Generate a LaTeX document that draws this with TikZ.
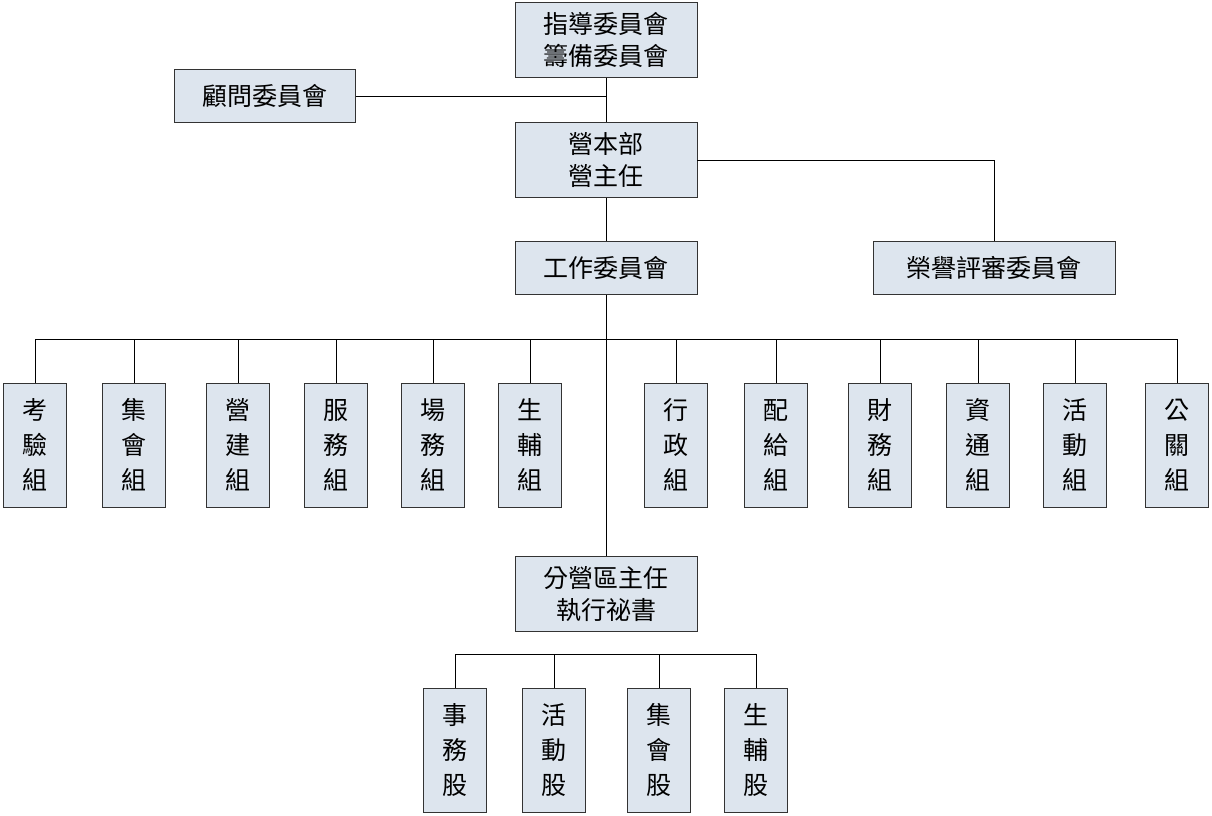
\documentclass[tikz,border=0pt]{standalone}
\usepackage{fontspec}
\setmainfont{Noto Sans CJK TC}
\usetikzlibrary{positioning}
\definecolor{boxFill}{HTML}{DDE5EE}
\definecolor{boxLine}{HTML}{333333}
\tikzset{
  unitBox/.style={draw=boxLine,fill=boxFill,line width=0.9pt,align=center,inner sep=0pt,
    font=\fontsize{25}{32}\selectfont},
  wideBox/.style={unitBox,minimum width=182pt,minimum height=75pt},
  lowBox/.style={unitBox,minimum width=182pt,minimum height=53pt},
  colBox/.style={unitBox,minimum width=63pt,minimum height=124pt,font=\fontsize{25}{35}\selectfont},
  link/.style={draw=black,line width=0.8pt}
}
\begin{document}
\begin{tikzpicture}[x=1pt,y=-1pt]
  \useasboundingbox (0,0) rectangle (1212,816);
  \node[wideBox] (lead) at (606,40) {指導委員會\\籌備委員會};
  \node[lowBox,minimum width=181pt] (advise) at (265,96) {顧問委員會};
  \node[wideBox] (hq) at (606,160) {營本部\\營主任};
  \node[lowBox] (work) at (606,268) {工作委員會};
  \node[lowBox,minimum width=242pt] (honor) at (994,268) {榮譽評審委員會};
  \node[wideBox] (sub) at (606,594) {分營區主任\\執行祕書};
  % groups
  \coordinate (bus) at (606,339);
  \foreach \x/\t [count=\i] in {35/考\\驗\\組,134/集\\會\\組,238/營\\建\\組,336/服\\務\\組,
      433/場\\務\\組,530/生\\輔\\組,676/行\\政\\組,776/配\\給\\組,880/財\\務\\組,
      978/資\\通\\組,1075/活\\動\\組,1177/公\\關\\組}{
    \node[colBox] (g\i) at (\x,445) {\t};
    \draw[link] (g\i.north) -- (\x,339);
  }
  \draw[link] (g1.north |- bus) -- (g12.north |- bus);
  % sections
  \coordinate (subbus) at (606,654);
  \foreach \x/\t [count=\i] in {455/事\\務\\股,554/活\\動\\股,659/集\\會\\股,756/生\\輔\\股}{
    \node[colBox] (s\i) at (\x,750) {\t};
    \draw[link] (s\i.north) -- (\x,654);
  }
  \draw[link] (s1.north |- subbus) -- (s4.north |- subbus);
  \draw[link] (lead) -- (hq);
  \draw[link] (advise.east) -- (advise.east -| lead.south);
  \draw[link] (hq.east) -| (honor.north);
  \draw[link] (hq) -- (work);
  \draw[link] (work) -- (sub);
\end{tikzpicture}
\end{document}
